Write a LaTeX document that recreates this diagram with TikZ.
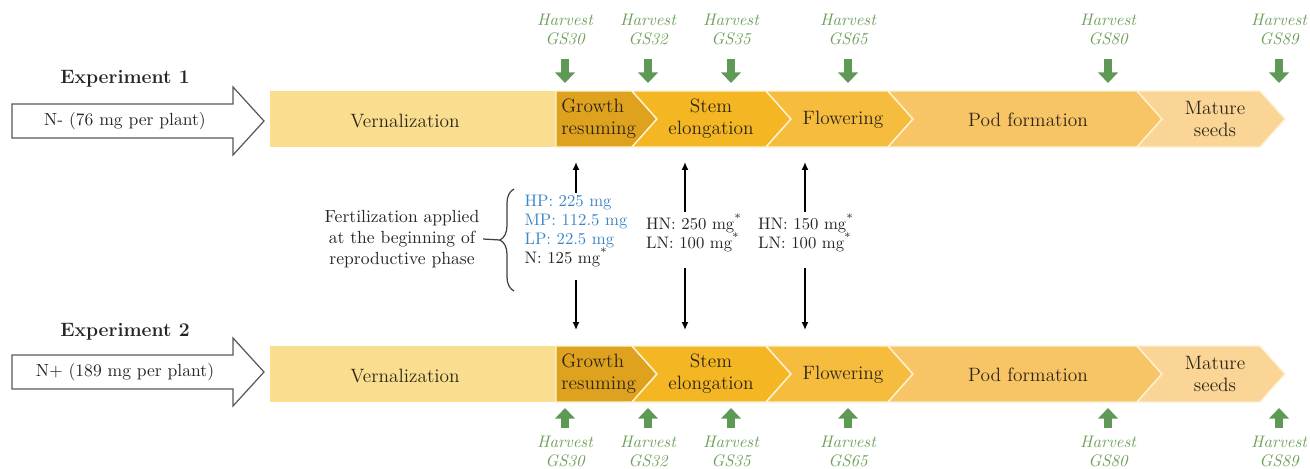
\documentclass[tikz,border=0pt]{standalone}
\usetikzlibrary{arrows.meta,decorations.pathreplacing}
\definecolor{vern}{HTML}{FADE90}
\definecolor{grow}{HTML}{DFA21F}
\definecolor{stem}{HTML}{F4B623}
\definecolor{flow}{HTML}{F6BC3E}
\definecolor{pod}{HTML}{F7C566}
\definecolor{mat}{HTML}{FAD596}
\definecolor{harv}{HTML}{6FA05B}
\definecolor{harva}{HTML}{5E9A55}
\definecolor{blu}{HTML}{3C86C6}
\definecolor{txt}{HTML}{2E2616}
\tikzset{
  bandtxt/.style={font=\fontsize{11}{12.5}\selectfont, text=txt, align=center, inner sep=0pt},
  harvlab/.style={font=\fontsize{9.5}{10.8}\selectfont\itshape, text=harv, align=center, inner sep=0pt},
  harvarrow/.style={draw=harva, line width=5pt, -{Triangle[length=6pt,width=11pt]}},
  seg/.style={draw=white!60!vern, line width=0.8pt, line join=miter},
  blkarrow/.style={draw=black, line width=0.9pt, -{Latex[length=4.5pt,width=4pt]}},
  expttl/.style={font=\fontsize{11}{13}\selectfont\bfseries, text=black!85, inner sep=0pt},
  whitearr/.style={draw=black!65, fill=white, line width=0.7pt, line join=miter},
  intxt/.style={font=\fontsize{10}{12}\selectfont, text=black!85, inner sep=0pt},
  dose/.style={font=\fontsize{9.5}{10.8}\selectfont, align=left, inner sep=0pt, text=black!85},
}
\begin{document}
\begin{tikzpicture}[x=0.02cm, y=-0.02cm]
\useasboundingbox (0,0) rectangle (1310,468);
\fill[white] (0,0) rectangle (1310,468);

% ---------- two timelines ----------
\foreach \r/\T/\C in {1/91/121,2/346/372} {
  \begin{scope}[shift={(0,\T)}]
    \fill[vern] (270,0) rectangle (556,56);
    \filldraw[seg, fill=grow] (556,0) -- (632,0) -- (657,28) -- (632,56) -- (556,56) -- cycle;
    \filldraw[seg, fill=stem] (632,0) -- (766,0) -- (791,28) -- (766,56) -- (632,56) -- (657,28) -- cycle;
    \filldraw[seg, fill=flow] (766,0) -- (888,0) -- (913,28) -- (888,56) -- (766,56) -- (791,28) -- cycle;
    \filldraw[seg, fill=pod] (888,0) -- (1137,0) -- (1162,28) -- (1137,56) -- (888,56) -- (913,28) -- cycle;
    \filldraw[seg, fill=mat] (1137,0) -- (1260,0) -- (1285,28) -- (1260,56) -- (1137,56) -- (1162,28) -- cycle;
    \node[bandtxt] (vern\r) at (405,30) {Vernalization};
    \node[bandtxt, align=left, anchor=west] (grow\r) at (561,28) {Growth\\resuming};
    \node[bandtxt] (stem\r) at (711,28) {Stem\\elongation};
    \node[bandtxt] (flow\r) at (843,29) {Flowering};
    \node[bandtxt] (pod\r) at (1028,29) {Pod formation};
    \node[bandtxt] (mat\r) at (1215,28) {Mature\\seeds};
  \end{scope}
  \begin{scope}[shift={(0,\C)}]
    \draw[whitearr] (12,-17) -- (233,-17) -- (233,-34) -- (264,0) -- (233,34) -- (233,17) -- (12,17) -- cycle;
  \end{scope}
}
\node[intxt] (n1) at (125,121) {N- (76 mg per plant)};
\node[intxt] (n2) at (125,372) {N+ (189 mg per plant)};
\node[expttl] (exp1) at (125,79) {Experiment 1};
\node[expttl] (exp2) at (125,332) {Experiment 2};

% ---------- harvests ----------
\foreach \i/\x/\g in {1/565/30,2/648/32,3/731/35,4/848/65,5/1108/80,6/1279/89} {
  \node[harvlab] (ht\i) at (\x,29) {Harvest\\GS\g};
  \coordinate (htt\i) at (\x,83);
  \draw[harvarrow, shorten <=8pt] (ht\i.south) -- (htt\i);
  \node[harvlab] (hb\i) at (\x,451) {Harvest\\GS\g};
  \coordinate (hbt\i) at (\x,408);
  \draw[harvarrow, shorten <=4pt] (hb\i.north) -- (hbt\i);
}

% ---------- fertilization ----------
\node[font=\fontsize{10}{12}\selectfont, align=center, inner sep=0pt, text=black!85] (fert) at (402,239)
  {Fertilization applied\\at the beginning of\\reproductive phase};
\draw[line width=0.7pt, black!75, decorate, decoration={brace, amplitude=8pt}] (514,291) -- (514,189);
\coordinate (btip) at (500,240);
\draw[line width=0.7pt, black!75] (fert.east) ++(2pt,0) -- (btip);

\node[dose] (fp) at (576,231) {\textcolor{blu}{HP: 225 mg}\\\textcolor{blu}{MP: 112.5 mg}\\\textcolor{blu}{LP: 22.5 mg}\\N: 125 mg\textsuperscript{*}};
\node[dose] (hn1) at (694,233) {HN: 250 mg\textsuperscript{*}\\LN: 100 mg\textsuperscript{*}};
\node[dose] (hn2) at (806,233) {HN: 150 mg\textsuperscript{*}\\LN: 100 mg\textsuperscript{*}};

\coordinate (u1) at (576,162);
\coordinate (u2) at (685,162);
\coordinate (u3) at (805,162);
\coordinate (d1) at (576,330);
\coordinate (d2) at (685,330);
\coordinate (d3) at (805,330);
\draw[blkarrow, shorten <=1pt] (fp.north) -- (u1);
\draw[blkarrow, shorten <=7pt] (fp.south) -- (d1);
\draw[blkarrow, shorten <=1pt] (hn1.north -| u2) -- (u2);
\draw[blkarrow, shorten <=9pt] (hn1.south -| d2) -- (d2);
\draw[blkarrow, shorten <=1pt] (hn2.north -| u3) -- (u3);
\draw[blkarrow, shorten <=9pt] (hn2.south -| d3) -- (d3);
\end{tikzpicture}
\end{document}
